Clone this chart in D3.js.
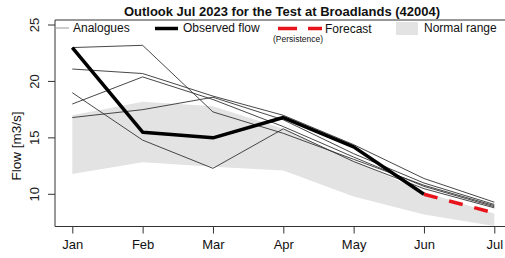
<!DOCTYPE html>
<html>
<head>
<meta charset="utf-8">
<title>Outlook</title>
<style>
  body { margin: 0; background: #fff; }
  svg { display: block; font-family: "Liberation Sans", Arial, sans-serif; }
</style>
</head>
<body>
<div id="chart"></div>
<script src="https://d3js.org/d3.v7.min.js"></script>
<script>
var months = ["Jan", "Feb", "Mar", "Apr", "May", "Jun", "Jul"];
var yTicks = [10, 15, 20, 25];

// observed flow Jan-Jun, forecast Jun-Jul (persistence)
var observed = [23.0, 15.5, 15.0, 16.8, 14.2, 10.0];
var forecast = [10.0, 8.35];

// normal range band
var normalLow  = [11.8, 12.85, 12.45, 12.1, 9.8, 8.2, 7.2];
var normalHigh = [17.0, 18.2, 17.8, 15.8, 13.0, 10.2, 8.3];

// analogue years
var analogue1 = [23.0, 23.2, 17.3, 15.4, 13.1, 10.8, 9.0];
var analogue2 = [21.1, 20.7, 18.7, 17.0, 14.4, 11.4, 9.3];
var analogue3 = [18.0, 20.4, 18.4, 16.0, 13.3, 10.7, 8.9];
var analogue4 = [19.0, 14.8, 12.3, 15.8, 12.9, 10.5, 8.8];
var analogue5 = [16.8, 17.5, 18.6, 16.6, 13.6, 11.0, 9.1];
var analogues = [analogue1, analogue2, analogue3, analogue4, analogue5];

var width = 505, height = 258;
var plot = {left: 55, right: 515, top: 20, bottom: 226.5};

var x = d3.scalePoint().domain(months).range([72.3, 494.3]);
var y = d3.scaleLinear().domain([10, 25]).range([194.3, 25]);

var svg = d3.select("#chart").append("svg")
    .attr("width", width)
    .attr("height", height);

// normal range
var band = months.map(function(m, i){ return {m: m, lo: normalLow[i], hi: normalHigh[i]}; });
svg.append("path")
    .datum(band)
    .attr("fill", "#e3e3e3")
    .attr("d", d3.area()
        .x(function(d){ return x(d.m); })
        .y0(function(d){ return y(d.lo); })
        .y1(function(d){ return y(d.hi); }));

var line = d3.line()
    .x(function(d){ return x(d[0]); })
    .y(function(d){ return y(d[1]); });

// analogues
svg.append("g").selectAll("path")
    .data(analogues)
    .enter().append("path")
    .attr("fill", "none")
    .attr("stroke", "#333")
    .attr("stroke-width", 0.9)
    .attr("d", function(d){ return line(d.map(function(v, i){ return [months[i], v]; })); });

// observed
svg.append("path")
    .attr("fill", "none")
    .attr("stroke", "#000")
    .attr("stroke-width", 3.5)
    .attr("stroke-linejoin", "round")
    .attr("d", line(observed.map(function(v, i){ return [months[i], v]; })));

// forecast
svg.append("path")
    .attr("fill", "none")
    .attr("stroke", "#e8141b")
    .attr("stroke-width", 3.5)
    .attr("stroke-dasharray", "14,12")
    .attr("d", line(forecast.map(function(v, i){ return [months[i + 5], v]; })));

// box: left, bottom, top
svg.append("path")
    .attr("fill", "none")
    .attr("stroke", "#333")
    .attr("stroke-width", 1)
    .attr("d", "M" + plot.right + "," + plot.top + "H" + plot.left + "V" + plot.bottom + "H" + plot.right);

// y axis
var yAxis = svg.append("g")
    .attr("transform", "translate(" + plot.left + ",0)")
    .call(d3.axisLeft(y).tickValues(yTicks).tickSize(7).tickPadding(6));
yAxis.select(".domain").remove();
yAxis.selectAll("line").attr("stroke", "#333");
yAxis.selectAll("text")
    .attr("font-size", 13)
    .attr("fill", "#222")
    .attr("x", 0).attr("dy", 0)
    .attr("text-anchor", "middle")
    .attr("transform", function(d){ return "translate(-16," + y(d) + ") rotate(-90)"; })
    .attr("y", 0);
yAxis.selectAll(".tick").attr("transform", null);
yAxis.selectAll(".tick line").attr("transform", function(d){ return "translate(0," + y(d) + ")"; });

// x axis
var xAxis = svg.append("g")
    .attr("transform", "translate(0," + plot.bottom + ")")
    .call(d3.axisBottom(x).tickSize(7).tickPadding(6));
xAxis.select(".domain").remove();
xAxis.selectAll("line").attr("stroke", "#333");
xAxis.selectAll("text").attr("font-size", 13).attr("fill", "#111");

// y label
svg.append("text")
    .attr("transform", "translate(21,146) rotate(-90)")
    .attr("text-anchor", "middle")
    .attr("font-size", 13.5)
    .attr("fill", "#111")
    .text("Flow [m3/s]");

// title
svg.append("text")
    .attr("x", 282).attr("y", 16)
    .attr("text-anchor", "middle")
    .attr("font-size", 13)
    .attr("font-weight", "bold")
    .attr("fill", "#111")
    .text("Outlook Jul 2023 for the Test at Broadlands (42004)");

// legend
var lg = svg.append("g").attr("font-size", 12);
lg.append("line").attr("x1", 54).attr("x2", 69).attr("y1", 28).attr("y2", 28)
    .attr("stroke", "#999").attr("stroke-width", 1);
lg.append("text").attr("x", 73).attr("y", 32).attr("fill", "#111").text("Analogues");
lg.append("line").attr("x1", 155).attr("x2", 178).attr("y1", 28.5).attr("y2", 28.5)
    .attr("stroke", "#000").attr("stroke-width", 3.5);
lg.append("text").attr("x", 183).attr("y", 32).attr("fill", "#111").text("Observed flow");
lg.append("line").attr("x1", 278).attr("x2", 322).attr("y1", 28.5).attr("y2", 28.5)
    .attr("stroke", "#e8141b").attr("stroke-width", 3.5).attr("stroke-dasharray", "19,11");
lg.append("text").attr("x", 325).attr("y", 33).attr("fill", "#111").text("Forecast");
lg.append("text").attr("x", 298).attr("y", 42).attr("font-size", 8.5).attr("fill", "#111")
    .attr("text-anchor", "middle").text("(Persistence)");
lg.append("rect").attr("x", 396).attr("y", 22).attr("width", 22).attr("height", 13)
    .attr("fill", "#e3e3e3");
lg.append("text").attr("x", 424).attr("y", 32).attr("fill", "#111").text("Normal range");
</script>
</body>
</html>
